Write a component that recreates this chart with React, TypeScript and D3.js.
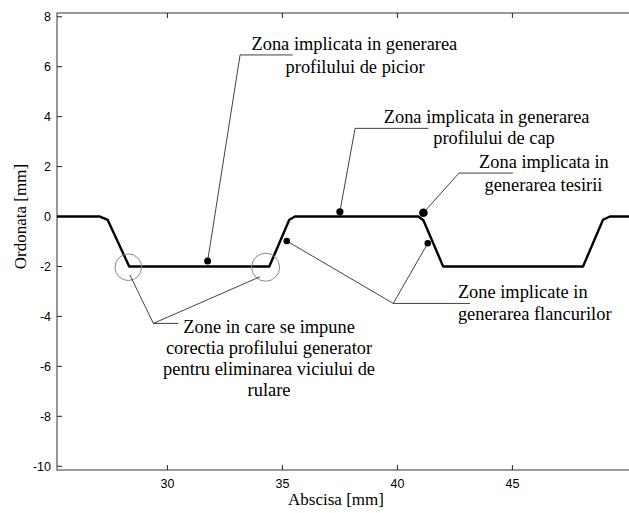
import React from 'react';
import * as d3 from 'd3';

const WIDTH = 629;
const HEIGHT = 513;

// Generating rack profile: abscissa / ordinate in mm
const profileX = [25.2, 27.07, 27.4, 28.34, 34.43, 35.3, 35.55, 40.91, 41.13, 41.99, 48.07, 48.94, 49.24, 50.2];
const profileY = [0, 0, -0.13, -2, -2, -0.13, 0, 0, -0.15, -2, -2, -0.13, 0, 0];

const xTicks = [30, 35, 40, 45];
const yTicks = [-10, -8, -6, -4, -2, 0, 2, 4, 6, 8];

// Marked points on the profile
const markerX = [31.75, 37.5, 35.19, 41.13, 41.32];
const markerY = [-1.78, 0.19, -0.98, 0.15, -1.07];

// Circled corners (bottom of the flanks)
const circleX = [28.3, 34.27];
const circleY = [-2.03, -2.03];

// Leader lines, as [x, y] vertices in mm
const leaders: [number, number][][] = [
  [[31.75, -1.78], [33.16, 6.47], [35.45, 6.47]],
  [[37.5, 0.19], [38.16, 3.53], [41.35, 3.53]],
  [[41.13, 0.15], [42.68, 1.74], [45.03, 1.74]],
  [[35.19, -0.98], [39.82, -3.48], [43.16, -3.48]],
  [[41.32, -1.07], [39.82, -3.48]],
  [[28.37, -2.34], [29.39, -4.28], [30.47, -4.28]],
  [[34.03, -2.41], [29.39, -4.28]],
];

// Annotation text lines: text, anchor x, baseline y (mm), alignment
const noteText = [
  'Zona implicata in generarea',
  'profilului de picior',
  'Zona implicata in generarea',
  'profilului de cap',
  'Zona implicata in',
  'generarea tesirii',
  'Zone implicate in',
  'generarea flancurilor',
  'Zone in care se impune',
  'corectia profilului generator',
  'pentru eliminarea viciului de',
  'rulare',
];
const noteX = [38.13, 38.16, 43.88, 44.2, 46.37, 46.35, 42.63, 42.63, 34.42, 34.42, 34.42, 34.42];
const noteY = [6.65, 5.75, 3.75, 2.92, 1.94, 1.02, -3.26, -4.15, -4.67, -5.51, -6.35, -7.19];
const noteAnchor = ['middle', 'middle', 'middle', 'middle', 'middle', 'middle', 'start', 'start', 'middle', 'middle', 'middle', 'middle'];

const margin = { left: 57, top: 13, bottom: 43 };

const serif = '"Liberation Serif", "Times New Roman", Times, serif';
const sans = '"Liberation Sans", Arial, Helvetica, sans-serif';

export default function App() {
  const x = d3.scaleLinear().domain([25.2, 50.2]).range([margin.left, margin.left + 25 * 23]);
  const y = d3.scaleLinear().domain([-10.15, 8.15]).range([HEIGHT - margin.bottom, margin.top]);
  const [x0, x1] = x.range();
  const [y0, y1] = y.range();

  const line = d3
    .line<number>()
    .x((_, i) => x(profileX[i]))
    .y((_, i) => y(profileY[i]));

  const leaderLine = d3
    .line<[number, number]>()
    .x((d) => x(d[0]))
    .y((d) => y(d[1]));

  const markerR = [3.5, 3.6, 3.3, 4.3, 3.3];
  const serifStyle = { fontFamily: serif };
  const sansStyle = { fontFamily: sans };

  return (
    <svg
      width={WIDTH}
      height={HEIGHT}
      style={{ position: 'absolute', left: 0, top: 0, background: '#fff' }}
    >
      <defs>
        <clipPath id="plot-clip">
          <rect x={x0} y={y1} width={x1 - x0} height={y0 - y1} />
        </clipPath>
      </defs>

      {/* frame */}
      <rect x={x0} y={y1} width={x1 - x0} height={y0 - y1} fill="none" stroke="#555" strokeWidth={1.2} />

      {/* x ticks, bottom and top, pointing inward */}
      {xTicks.map((t) => (
        <g key={`xt${t}`}>
          <line x1={x(t)} x2={x(t)} y1={y0} y2={y0 - 5} stroke="#222" strokeWidth={1} />
          <line x1={x(t)} x2={x(t)} y1={y1} y2={y1 + 5} stroke="#222" strokeWidth={1} />
          <text x={x(t)} y={y0 + 18} textAnchor="middle" style={sansStyle} fontSize={12.5} fill="#000">
            {String(t)}
          </text>
        </g>
      ))}

      {/* y ticks */}
      {yTicks.map((t) => (
        <g key={`yt${t}`}>
          <line x1={x0} x2={x0 + 5} y1={y(t)} y2={y(t)} stroke="#222" strokeWidth={1} />
          <text x={x0 - 6} y={y(t) + 4.5} textAnchor="end" style={sansStyle} fontSize={12.5} fill="#000">
            {String(t)}
          </text>
        </g>
      ))}

      {/* axis titles */}
      <text x={336} y={505} textAnchor="middle" style={serifStyle} fontSize={17} fill="#000">
        Abscisa [mm]
      </text>
      <text
        transform={`translate(26, ${y(0)}) rotate(-90)`}
        textAnchor="middle"
        style={serifStyle}
        fontSize={17}
        fill="#000"
      >
        Ordonata [mm]
      </text>

      <g clipPath="url(#plot-clip)">
        {/* profile */}
        <path
          d={line(profileX) || ''}
          fill="none"
          stroke="#000"
          strokeWidth={2.4}
          strokeLinejoin="round"
        />

        {/* circled corners */}
        {circleX.map((cx, i) => (
          <circle key={`c${i}`} cx={x(cx)} cy={y(circleY[i])} r={i === 0 ? 13.3 : 14} fill="none" stroke="#888" strokeWidth={1} />
        ))}

        {/* leader lines */}
        {leaders.map((pts, i) => (
          <path key={`l${i}`} d={leaderLine(pts) || ''} fill="none" stroke="#111" strokeWidth={0.8} />
        ))}

        {/* markers */}
        {markerX.map((mx, i) => (
          <circle key={`m${i}`} cx={x(mx)} cy={y(markerY[i])} r={markerR[i]} fill="#000" />
        ))}
      </g>

      {/* annotations */}
      {noteText.map((t, i) => (
        <text
          key={`n${i}`}
          x={x(noteX[i])}
          y={y(noteY[i])}
          textAnchor={noteAnchor[i] as 'start' | 'middle' | 'end'}
          style={serifStyle}
          fontSize={18.4}
          fill="#000"
        >
          {t}
        </text>
      ))}
    </svg>
  );
}
